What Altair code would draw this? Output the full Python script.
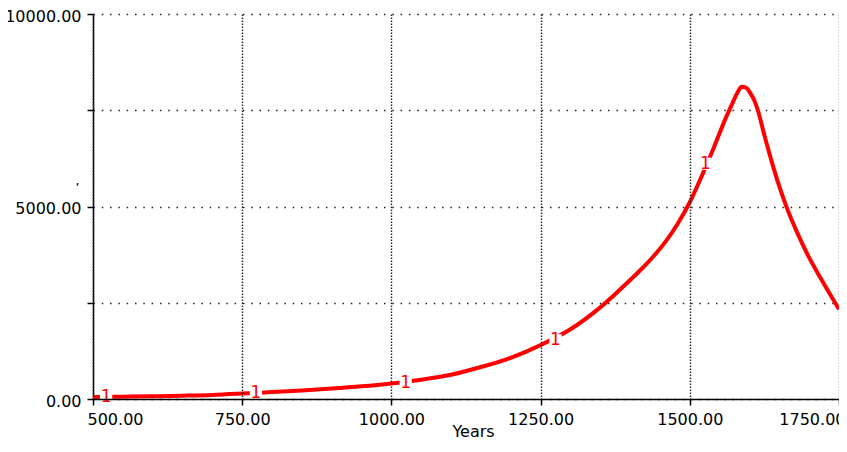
import altair as alt
import pandas as pd

# ---- data ----
years = [500, 550, 600, 650, 700, 750, 800, 850, 900, 950, 1000, 1050, 1100, 1150,
         1200, 1250, 1300, 1350, 1400, 1420, 1440, 1460, 1480, 1500, 1520, 1540,
         1560, 1572, 1580, 1587, 1594, 1602, 1608, 1614, 1625, 1637, 1650, 1662,
         1680, 1700, 1720, 1735, 1750]
values = [55, 60, 70, 85, 105, 140, 180, 220, 270, 330, 405, 500, 630, 830,
          1070, 1400, 1810, 2380, 3090, 3390, 3720, 4100, 4560, 5110, 5790, 6520,
          7290, 7700, 7960, 8110, 8090, 7930, 7760, 7500, 6850, 6180, 5520, 4990,
          4320, 3670, 3120, 2720, 2330]

label_years = [522, 773, 1024, 1275, 1526]
label_values = [60, 155, 415, 1525, 6110]
label_text = ["1", "1", "1", "1", "1"]

x_ticks = [500, 750, 1000, 1250, 1500, 1750]
y_ticks = [0, 2500, 5000, 7500, 10000]

FONT = "DejaVu Sans"

df = pd.DataFrame({"Years": years, "Value": values})
ldf = pd.DataFrame({"Years": label_years, "Value": label_values, "Label": label_text})

x_enc = alt.X(
    "Years:Q",
    scale=alt.Scale(domain=[500, 1750], nice=False, zero=False),
    axis=alt.Axis(
        values=x_ticks, format=".2f", title="Years",
        labelFlush=True, labelFlushOffset=6, labelOverlap=False,
        gridDash=[1.5, 1.5], titleX=380, titleY=37, titleBaseline="alphabetic",
        zindex=1,
    ),
)
y_enc = alt.Y(
    "Value:Q",
    scale=alt.Scale(domain=[0, 10000], nice=False),
    axis=alt.Axis(
        values=y_ticks,
        labelExpr="datum.value % 5000 == 0 ? format(datum.value, '.2f') : ''",
        labelOverlap=False, labelOffset=2,
        title=",", titleAngle=0, titleX=-16, titleY=170,
        titleBaseline="alphabetic", titleFontSize=13,
        gridDash=[1.5, 6.8],
    ),
)

line = alt.Chart(df).mark_line(
    color="#ff0000", strokeWidth=4, interpolate="monotone"
).encode(x=x_enc, y=y_enc)

boxes = alt.Chart(ldf).mark_point(
    shape="square", filled=True, color="white", opacity=1, size=150, strokeWidth=0
).encode(x=x_enc, y=y_enc)

labels = alt.Chart(ldf).mark_text(
    color="#ff0000", font=FONT, fontSize=17, baseline="middle", align="center"
).encode(x=x_enc, y=y_enc, text="Label:N")

chart = alt.layer(line, boxes, labels).properties(
    width=746, height=385,
    autosize=alt.AutoSizeParams(type="none"),
    padding={"left": 85, "top": 6, "right": 0, "bottom": 41},
    background="white",
).configure_view(stroke=None).configure_axis(
    domainColor="#000", domainWidth=1.5,
    tickColor="#000", tickWidth=1.5, tickSize=6,
    labelFont=FONT, labelFontSize=16, labelColor="#000", labelPadding=6,
    titleFont=FONT, titleFontSize=16, titleFontWeight="normal", titleColor="#000",
    gridColor="#222", gridWidth=1.4, gridOpacity=1,
)

chart.save("out.html", embed_options={"renderer": "svg", "actions": False})
